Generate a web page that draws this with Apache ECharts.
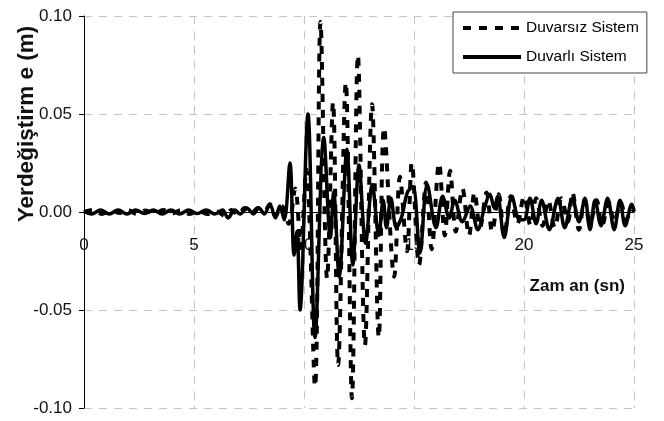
<!DOCTYPE html>
<html>
<head>
<meta charset="utf-8">
<script src="https://cdn.jsdelivr.net/npm/echarts@6/dist/echarts.min.js"></script>
<style>
html,body{margin:0;padding:0;background:#fff;}
#chart{width:664px;height:421px;}
</style>
</head>
<body>
<div id="chart"></div>
<script>
// Tick labels
const xTicks = [0, 5, 10, 15, 20, 25];
const yTicks = [-0.10, -0.05, 0.00, 0.05, 0.10];

// Series names
const seriesNames = ['Duvarsız Sistem', 'Duvarlı Sistem'];

// Duvarsız Sistem (dashed)
const zamanDuvarsiz = [0, 0.4, 0.8, 1.2, 1.6, 2.0, 2.4, 2.8, 3.2, 3.6, 4.0, 4.4, 4.8, 5.2, 5.6, 6.0, 6.4, 6.7, 7.0, 7.3, 7.6, 7.9, 8.2, 8.45, 8.7, 9.0, 9.3, 9.6, 9.85, 10.1, 10.5, 10.75, 11.05, 11.32, 11.55, 11.9, 12.18, 12.45, 12.77, 13.09, 13.4, 13.64, 14.1, 14.36, 14.68, 14.9, 15.23, 15.55, 15.8, 16.14, 16.4, 16.64, 16.9, 17.2, 17.5, 17.75, 18.0, 18.3, 18.55, 18.85, 19.1, 19.4, 19.7, 20.0, 20.3, 20.55, 20.85, 21.1, 21.4, 21.7, 22.0, 22.2, 22.5, 22.75, 23.0, 23.3, 23.55, 23.85, 24.1, 24.4, 24.65, 24.9, 25.0];
const duvarsiz = [0, 0.001, -0.001, 0.001, -0.0005, 0.001, -0.001, 0.0008, -0.001, 0.001, -0.0008, 0.001, -0.001, 0.0008, -0.001, 0.0005, -0.002, 0.001, -0.0015, 0.002, -0.001, 0.002, 0.0005, 0.004, -0.002, 0.003, -0.006, 0.012, -0.018, 0.022, -0.089, 0.097, -0.034, 0.056, -0.078, 0.066, -0.095, 0.080, -0.068, 0.055, -0.064, 0.043, -0.033, 0.018, -0.020, 0.025, -0.027, 0.015, -0.019, 0.025, -0.012, 0.021, -0.010, 0.012, -0.012, 0.010, -0.008, 0.010, -0.010, 0.009, -0.012, 0.008, -0.006, 0.008, -0.007, 0.007, -0.007, 0.006, -0.008, 0.007, -0.005, 0.010, -0.009, 0.006, -0.006, 0.006, -0.007, 0.005, -0.005, 0.005, -0.004, 0.002, 0.0];

// Duvarlı Sistem (solid)
const zamanDuvarli = [0, 0.35, 0.75, 1.15, 1.55, 1.95, 2.35, 2.75, 3.15, 3.55, 3.95, 4.35, 4.75, 5.15, 5.55, 5.95, 6.3, 6.55, 6.85, 7.1, 7.4, 7.7, 7.95, 8.2, 8.45, 8.7, 8.9, 9.1, 9.36, 9.55, 9.68, 9.82, 10.18, 10.5, 10.9, 11.2, 11.35, 11.6, 11.95, 12.22, 12.5, 12.8, 13.1, 13.4, 13.6, 13.75, 13.95, 14.2, 14.45, 14.7, 14.95, 15.27, 15.6, 16.0, 16.3, 16.6, 16.85, 17.2, 17.55, 17.9, 18.2, 18.45, 18.65, 18.8, 19.1, 19.45, 19.8, 20.0, 20.27, 20.55, 20.8, 21.15, 21.55, 21.85, 22.2, 22.5, 22.77, 23.0, 23.23, 23.5, 23.8, 24.1, 24.36, 24.6, 24.9, 25.0];
const duvarli = [0.0005, -0.001, 0.001, -0.001, 0.001, -0.001, 0.001, -0.0008, 0.001, -0.001, 0.001, -0.001, 0.001, -0.0008, 0.001, -0.001, 0.001, -0.003, 0.001, -0.001, 0.002, -0.001, 0.002, -0.001, 0.004, -0.003, 0.003, -0.004, 0.025, -0.022, -0.010, -0.050, 0.050, -0.064, 0.038, -0.013, 0.010, -0.033, 0.032, -0.027, 0.024, -0.016, 0.014, -0.012, 0.006, -0.008, 0.007, -0.008, -0.002, 0.010, 0.013, -0.021, 0.014, -0.008, 0.008, -0.003, 0.006, -0.005, 0.003, -0.009, 0.002, 0.009, 0.002, 0.008, -0.013, 0.008, -0.004, -0.004, 0.007, -0.006, 0.006, -0.009, 0.007, -0.008, 0.007, -0.005, 0.007, -0.009, 0.006, -0.007, 0.007, -0.009, 0.006, -0.007, 0.004, 0.001];

const pair = (ts, vs) => ts.map((t, i) => [t, vs[i]]);

const sans = "'Liberation Sans', Arial, sans-serif";
const gridTop = 16, gridBottom = 13, H = 421;
const chart = echarts.init(document.getElementById('chart'), null, {renderer: 'canvas'});
chart.setOption({
  animation: false,
  backgroundColor: '#ffffff',
  grid: {left: 84, right: 30, top: gridTop, bottom: gridBottom, containLabel: false, outerBoundsMode: 'none'},
  legend: {
    orient: 'vertical',
    left: 453, top: 12,
    padding: [8, 8, 8, 8],
    itemGap: 13,
    itemWidth: 58, itemHeight: 14,
    backgroundColor: '#ffffff',
    borderColor: '#444', borderWidth: 1,
    itemStyle: {opacity: 0},
    lineStyle: {width: 4},
    textStyle: {fontFamily: sans, fontSize: 15.5, color: '#000'},
    data: seriesNames
  },
  xAxis: {
    type: 'value',
    position: 'bottom',
    offset: -(H - gridTop - gridBottom) / 2,
    min: xTicks[0], max: xTicks[xTicks.length - 1], interval: 5,
    axisLine: {onZero: false, lineStyle: {color: '#000', width: 1}},
    axisTick: {show: false},
    axisLabel: {margin: 25, fontFamily: sans, fontSize: 17, color: '#111', showMinLabel: true, showMaxLabel: true},
    splitLine: {show: true, lineStyle: {color: '#c4c4c4', width: 1, type: [8, 7]}}
  },
  yAxis: {
    type: 'value',
    min: yTicks[0], max: yTicks[yTicks.length - 1], interval: 0.05,
    axisLine: {show: true, onZero: false, lineStyle: {color: '#000', width: 1}},
    axisTick: {show: true, inside: false, length: 5, lineStyle: {color: '#000'}},
    axisLabel: {margin: 12, fontFamily: sans, fontSize: 17, color: '#111', formatter: v => v.toFixed(2)},
    splitLine: {show: true, lineStyle: {color: '#c4c4c4', width: 1, type: [8, 7]}}
  },
  graphic: [
    {type: 'text', x: 27, y: 124, rotation: Math.PI / 2,
     style: {text: 'Yerdeğiştirm e (m)', fontFamily: sans, fontWeight: 'bold', fontSize: 22.5, fill: '#111', align: 'center', verticalAlign: 'middle'}},
    {type: 'text', x: 625, y: 286,
     style: {text: 'Zam an (sn)', fontFamily: sans, fontWeight: 'bold', fontSize: 17, fill: '#111', align: 'right', verticalAlign: 'middle'}}
  ],
  series: [
    {name: seriesNames[0], type: 'line', data: pair(zamanDuvarsiz, duvarsiz), smooth: 0.35,
     showSymbol: false, symbol: 'none', lineStyle: {color: '#000', width: 4, type: [8, 8], cap: 'butt'}, itemStyle: {color: '#000'}, z: 2},
    {name: seriesNames[1], type: 'line', data: pair(zamanDuvarli, duvarli), smooth: 0.35,
     showSymbol: false, symbol: 'none', lineStyle: {color: '#000', width: 3.5, type: 'solid'}, itemStyle: {color: '#000'}, z: 3}
  ]
});
</script>
</body>
</html>
